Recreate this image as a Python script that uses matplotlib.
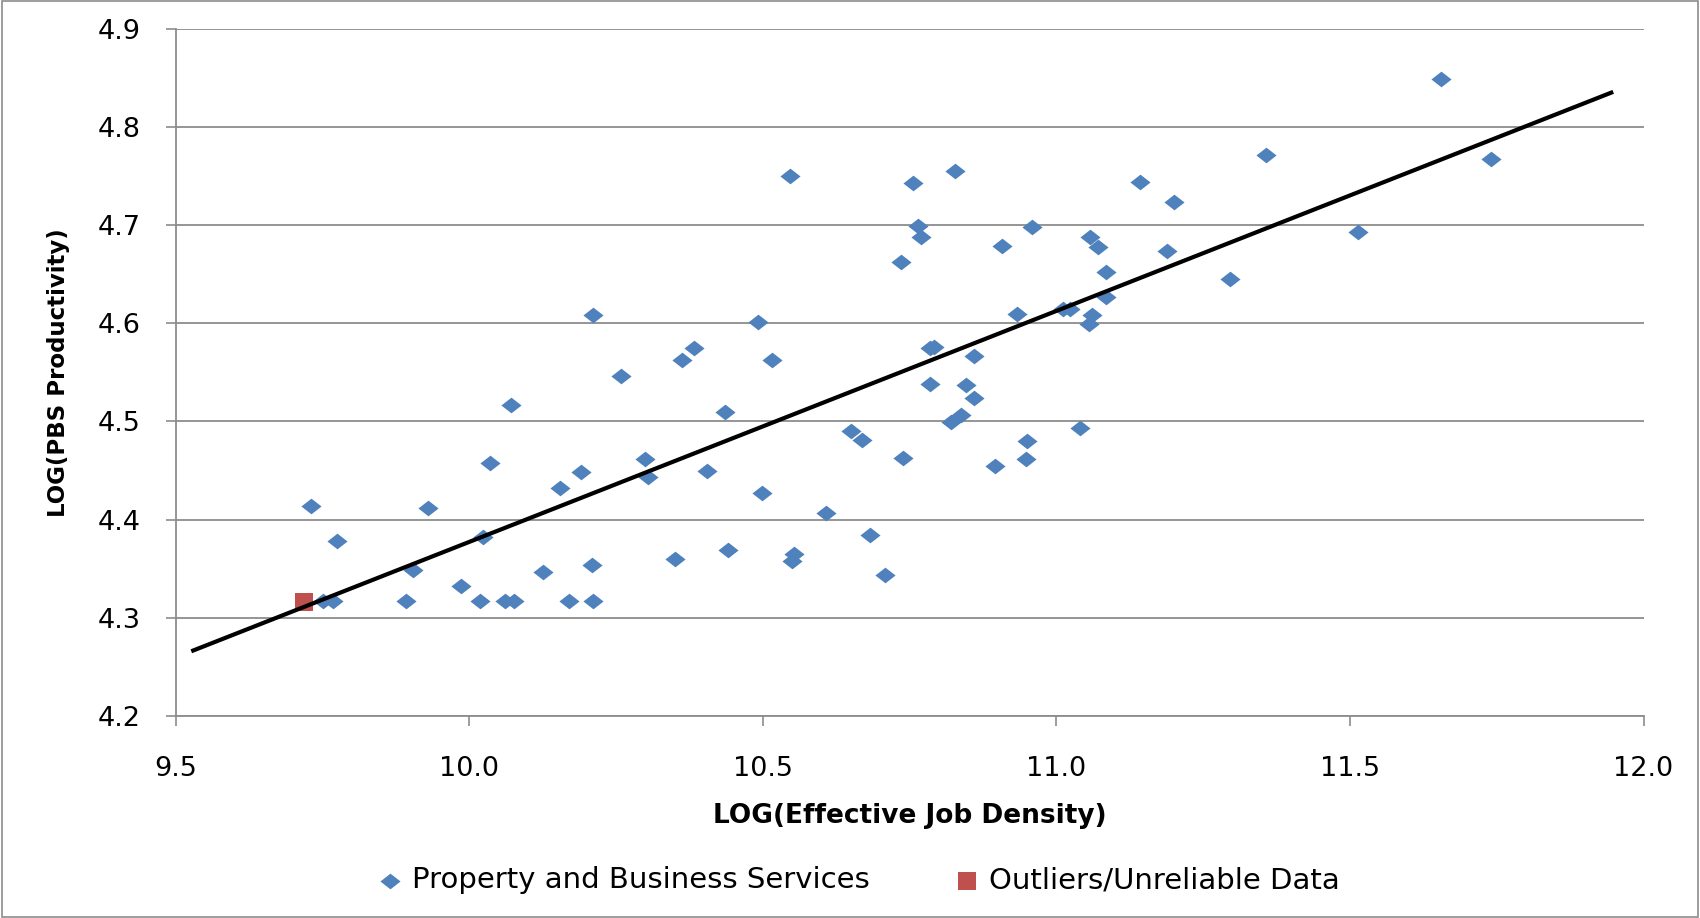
import numpy as np
from matplotlib import pyplot as plt
from matplotlib.path import Path
from matplotlib.patches import Rectangle

# Property and Business Services
pbs_x = [11.655, 11.741, 11.357, 11.514, 11.295, 11.143, 11.200, 11.189, 11.058, 11.071,
         11.084, 11.084, 11.060, 11.056, 11.012, 11.023, 11.040, 10.959, 10.907, 10.933,
         10.950, 10.948, 10.896, 10.828, 10.756, 10.765, 10.770, 10.735, 10.785, 10.792,
         10.859, 10.785, 10.846, 10.859, 10.837, 10.820, 10.739, 10.708, 10.682, 10.650,
         10.669, 10.608, 10.547, 10.516, 10.492, 10.499, 10.554, 10.549, 10.436, 10.440,
         10.405, 10.351, 10.383, 10.362, 10.300, 10.305, 10.259, 10.211, 10.209, 10.211,
         10.191, 10.170, 10.154, 10.126, 10.072, 10.076, 10.061, 10.035, 10.024, 10.019,
         9.986, 9.930, 9.904, 9.893, 9.775, 9.731, 9.768, 9.751]
pbs_y = [4.849, 4.768, 4.772, 4.693, 4.645, 4.744, 4.724, 4.674, 4.688, 4.678,
         4.652, 4.627, 4.609, 4.599, 4.615, 4.615, 4.493, 4.698, 4.679, 4.610,
         4.480, 4.462, 4.455, 4.756, 4.743, 4.699, 4.688, 4.663, 4.575, 4.576,
         4.567, 4.538, 4.537, 4.524, 4.507, 4.499, 4.463, 4.343, 4.384, 4.490,
         4.481, 4.407, 4.750, 4.563, 4.601, 4.427, 4.365, 4.358, 4.510, 4.369,
         4.450, 4.360, 4.575, 4.563, 4.462, 4.443, 4.546, 4.609, 4.354, 4.317,
         4.448, 4.317, 4.432, 4.346, 4.517, 4.317, 4.317, 4.458, 4.382, 4.317,
         4.332, 4.412, 4.349, 4.317, 4.378, 4.414, 4.317, 4.317]

# Outliers / unreliable data
out_x = [9.718]
out_y = [4.316]

# trendline extent (Excel forecast range)
trend_range = [9.53, 11.945]

xticks = [9.5, 10.0, 10.5, 11.0, 11.5, 12.0]
yticks = [4.2, 4.3, 4.4, 4.5, 4.6, 4.7, 4.8, 4.9]

blue = '#4F81BD'
red = '#C0504D'
grid_c = '#8C8C8C'

# flattened diamond like Excel's
diamond = Path([(-1, 0), (0, 0.78), (1, 0), (0, -0.78), (-1, 0)],
               [Path.MOVETO, Path.LINETO, Path.LINETO, Path.LINETO, Path.CLOSEPOLY])

fig = plt.figure(figsize=(17, 9.18), dpi=100)
fig.patch.set_facecolor('w')
ax = fig.add_axes([0.1033, 0.2205, 0.8635, 0.7475])

ax.scatter(pbs_x, pbs_y, marker=diamond, s=210, c=blue, linewidths=0, zorder=3,
           label='Property and Business Services')
ax.scatter(out_x, out_y, marker='s', s=170, c=red, linewidths=0, zorder=3,
           label='Outliers/Unreliable Data')

slope, icpt = np.polyfit(pbs_x, pbs_y, 1)
tx = np.array(trend_range)
ax.plot(tx, slope * tx + icpt, c='k', lw=3.0, zorder=4)

ax.set_xlim(9.5, 12.0)
ax.set_ylim(4.2, 4.9)
ax.set_xticks(xticks)
ax.set_yticks(yticks)
ax.set_xticklabels(['%.1f' % v for v in xticks])
ax.set_yticklabels(['%.1f' % v for v in yticks])
ax.tick_params(axis='both', labelsize=19.5, color=grid_c, length=7, width=1.2,
               direction='out')
ax.tick_params(axis='y', pad=18)
ax.tick_params(axis='x', pad=22)
ax.grid(axis='y', color=grid_c, lw=1.3)
ax.set_axisbelow(True)
for s in ['top', 'right']:
    ax.spines[s].set_visible(False)
for s in ['left', 'bottom']:
    ax.spines[s].set_color(grid_c)
    ax.spines[s].set_linewidth(1.3)

ax.set_xlabel('LOG(Effective Job Density)', fontsize=19, fontweight='bold', labelpad=15)
ax.set_ylabel('LOG(PBS Productivity)', fontsize=16.5, fontweight='bold', labelpad=20)

fig.legend(loc='center', bbox_to_anchor=(0.504, 0.041), ncol=2, frameon=False,
           fontsize=21, columnspacing=2.8, handletextpad=0.2, handlelength=1.1,
           markerscale=1.0)

fig.patches.append(Rectangle((0.001, 0.001), 0.998, 0.998, transform=fig.transFigure,
                             fill=False, edgecolor='#8C8C8C', lw=1.2))

plt.savefig('out.png', dpi=100)
